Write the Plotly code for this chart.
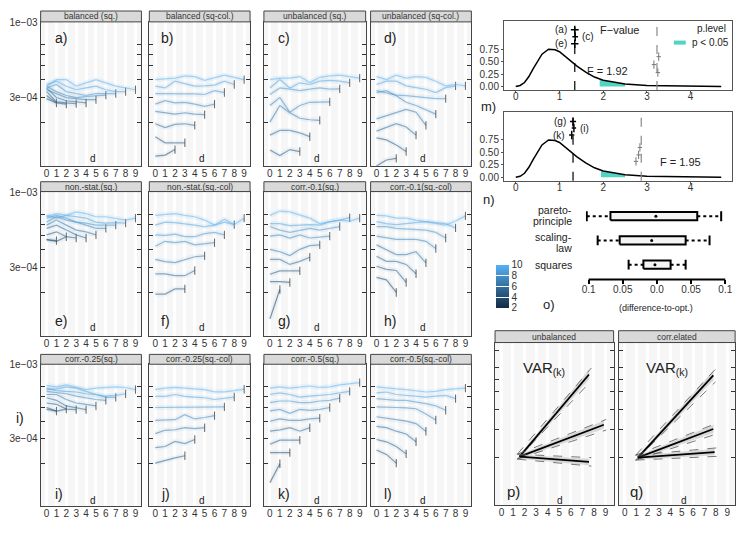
import plotly.graph_objects as go

# ---------------- data ----------------
# small multiples: one list per panel, one line per k (2..10), values in 1e-4, index = d
d_ticks = list(range(10))
k_values = list(range(2, 11))

bal_sq = [
    [2.95, 2.75],
    [3.1, 2.75, 2.7],
    [3.3, 2.8, 2.75, 2.72],
    [3.5, 3.0, 2.85, 2.8, 2.75],
    [3.4, 3.2, 3.0, 2.95, 2.9, 2.9],
    [3.6, 3.3, 3.1, 3.0, 3.05, 3.1, 3.12],
    [3.5, 3.7, 3.3, 3.2, 3.1, 3.2, 3.2, 3.2],
    [3.7, 3.9, 3.6, 3.4, 3.5, 3.6, 3.4, 3.3, 3.3],
    [3.6, 4.0, 4.0, 3.6, 3.8, 4.0, 3.8, 3.6, 3.5, 3.4],
]
bal_sqcol = [
    None,
    [1.17, 1.19, 1.3],
    [1.6, 1.45, 1.45, 1.45],
    [1.97, 1.85, 1.95, 1.97, 1.92],
    [2.4, 2.35, 2.3, 2.35, 2.3, 2.28],
    [2.7, 2.85, 2.75, 2.78, 2.7, 2.6, 2.7],
    [3.2, 3.2, 3.2, 3.2, 3.18, 3.15, 3.35, 3.25],
    [3.6, 3.5, 3.9, 3.75, 3.6, 3.62, 3.66, 3.9, 3.7],
    [4.0, 4.05, 4.1, 4.25, 4.2, 3.95, 4.1, 4.3, 4.15, 4.0],
]
unbal_sq = [
    None,
    None,
    [1.29, 1.18, 1.3, 1.26],
    [1.64, 1.77, 1.77, 1.7, 1.6],
    [2.02, 2.64, 2.35, 2.15, 2.1, 2.08],
    [2.64, 3.0, 2.37, 2.64, 2.78, 2.8, 2.8],
    [3.15, 3.5, 3.43, 3.35, 3.43, 3.5, 3.43, 3.45],
    [3.5, 4.0, 3.5, 3.8, 3.7, 3.9, 3.95, 3.9, 3.8],
    [4.0, 4.1, 4.1, 4.2, 3.82, 4.15, 4.25, 4.3, 4.2, 4.1],
]
unbal_sqcol = [
    None,
    [1.0, 1.1, 1.13],
    [1.57, 1.52, 1.4, 1.26],
    [1.75, 1.85, 1.97, 1.87, 1.64],
    [2.13, 2.25, 2.37, 2.48, 2.37, 1.92],
    [3.25, 3.35, 3.09, 2.78, 2.64, 2.45, 2.3],
    [3.35, 3.25, 3.12, 3.09, 3.06, 3.0, 2.95, 2.95],
    [3.7, 3.9, 3.9, 3.62, 3.52, 3.43, 3.25, 3.52, 3.62],
    [4.2, 4.0, 4.3, 4.1, 4.2, 4.15, 3.9, 3.62, 3.7, 3.62],
]
nonstat_sq = [
    [4.7, 4.6],
    [4.66, 4.55, 4.9],
    [5.05, 5.3, 4.9, 4.8],
    [5.6, 5.9, 5.45, 5.05, 4.8],
    [5.9, 6.4, 5.9, 5.45, 5.3, 5.05],
    [6.2, 6.75, 6.4, 6.2, 5.9, 5.6, 5.6],
    [6.6, 6.9, 6.6, 6.2, 6.1, 5.9, 5.9, 5.9],
    [6.9, 6.6, 6.9, 6.75, 6.6, 6.2, 6.1, 6.15, 6.1],
    [6.75, 7.1, 6.9, 7.3, 7.1, 6.75, 6.75, 6.6, 6.4, 6.6],
]
nonstat_sqcol = [
    None,
    None,
    [1.95, 1.95, 2.12, 2.12],
    [2.7, 2.7, 2.62, 2.62, 2.85],
    [3.4, 3.28, 3.23, 3.4, 3.55, 3.6],
    [4.2, 4.55, 4.45, 4.55, 4.3, 4.35, 4.45],
    [5.05, 5.0, 5.1, 4.9, 4.9, 5.15, 5.25, 5.05],
    [5.9, 6.2, 6.15, 6.05, 5.9, 5.75, 5.9, 6.2, 5.95],
    [6.9, 7.0, 7.1, 6.9, 6.75, 6.4, 5.9, 6.5, 5.95, 6.6],
]
corr01_sq = [
    [1.31, 2.1],
    [2.38, 2.38, 2.35],
    [2.68, 2.83, 2.83, 2.83],
    [3.4, 3.4, 3.14, 3.3, 3.52],
    [4.0, 3.85, 3.62, 4.0, 4.25, 4.3],
    [4.95, 5.05, 4.8, 5.05, 4.8, 4.85, 4.95],
    [5.77, 5.45, 5.25, 5.45, 5.6, 5.45, 5.6, 5.77],
    [6.05, 6.05, 5.85, 5.9, 5.95, 5.9, 6.24, 6.4, 6.65],
    [6.9, 7.4, 7.3, 6.9, 6.6, 6.05, 6.24, 6.4, 6.3, 6.6],
]
corr01_sqcol = [
    None,
    [2.55, 2.45, 2.0],
    [3.05, 2.9, 2.85, 2.35],
    [3.58, 3.3, 3.3, 3.14, 2.7],
    [4.3, 4.0, 3.68, 3.68, 3.85, 3.22],
    [4.95, 4.85, 4.7, 4.7, 4.7, 4.55, 4.05],
    [5.77, 5.77, 5.6, 5.55, 5.55, 5.45, 5.25, 4.8],
    [6.24, 6.05, 5.95, 6.05, 6.15, 6.24, 6.15, 6.05, 5.65],
    [6.9, 6.85, 6.6, 6.6, 6.4, 6.24, 6.05, 5.9, 6.3, 6.85],
]
corr025_sq = [
    [4.85, 4.72],
    [5.0, 4.72, 4.87],
    [5.38, 5.27, 4.87, 4.83],
    [5.86, 5.62, 5.13, 5.0, 4.83],
    [6.18, 6.18, 5.7, 5.38, 5.27, 5.13],
    [6.5, 6.34, 6.26, 6.02, 5.86, 5.7, 5.62],
    [6.86, 6.58, 6.5, 6.44, 6.26, 6.18, 5.9, 5.9],
    [6.7, 6.78, 7.0, 6.86, 6.5, 6.18, 6.02, 6.1, 6.26],
    [7.17, 7.0, 7.24, 6.93, 6.7, 6.86, 6.93, 7.0, 6.93, 6.7],
]
corr025_sqcol = [
    None,
    None,
    [2.02, 2.12, 2.2, 2.28],
    [2.6, 2.65, 2.88, 2.78, 2.97],
    [3.27, 3.45, 3.48, 3.6, 3.55, 3.6],
    [4.05, 4.1, 4.1, 4.45, 4.15, 4.25, 4.38],
    [5.0, 5.0, 5.05, 5.0, 5.05, 5.05, 5.05, 5.05],
    [6.0, 6.0, 6.18, 6.0, 5.93, 5.86, 5.7, 5.78, 5.93],
    [6.7, 6.86, 6.93, 6.86, 6.78, 6.7, 6.45, 6.45, 6.58, 6.74],
]
corr05_sq = [
    [1.47, 2.0],
    [2.4, 2.4, 2.4],
    [2.75, 2.94, 2.94, 2.94],
    [3.4, 3.47, 3.6, 3.4, 3.6],
    [4.0, 4.15, 4.05, 4.05, 4.15, 4.2],
    [4.74, 4.85, 4.55, 4.85, 4.78, 4.85, 5.0],
    [5.42, 5.56, 5.56, 5.42, 5.42, 5.56, 5.62, 5.82],
    [6.18, 6.34, 6.18, 5.93, 6.02, 6.1, 6.18, 6.34, 6.5],
    [6.86, 7.0, 6.86, 7.0, 7.1, 6.93, 7.0, 7.24, 7.4, 7.5],
]
corr05_sqcol = [
    None,
    [2.5, 2.33, 2.02],
    [2.97, 2.86, 2.65, 2.35],
    [3.68, 3.6, 3.4, 3.25, 2.86],
    [4.3, 4.2, 4.08, 4.0, 3.85, 3.4],
    [5.05, 5.0, 5.0, 4.97, 4.9, 4.5, 4.08],
    [5.78, 5.7, 5.62, 5.62, 5.5, 5.32, 5.13, 4.78],
    [6.34, 6.44, 6.18, 6.1, 6.02, 5.93, 6.02, 6.1, 5.78],
    [7.0, 6.86, 6.78, 6.7, 6.58, 6.44, 6.5, 6.7, 6.78, 6.86],
]

strip_names = [
    'balanced (sq.)', 'balanced (sq-col.)', 'unbalanced (sq.)', 'unbalanced (sq-col.)',
    'non.-stat.(sq.)', 'non.-stat.(sq.-col)', 'corr.-0.1(sq.)', 'corr.-0.1(sq.-col)',
    'corr.-0.25(sq.)', 'corr.-0.25(sq.-col)', 'corr.-0.5(sq.)', 'corr.-0.5(sq.-col)',
]
panel_tags = ['a)', 'b)', 'c)', 'd)', 'e)', 'f)', 'g)', 'h)', 'i)', 'j)', 'k)', 'l)']
panel_data = [bal_sq, bal_sqcol, unbal_sq, unbal_sqcol, nonstat_sq, nonstat_sqcol,
              corr01_sq, corr01_sqcol, corr025_sq, corr025_sqcol, corr05_sq, corr05_sqcol]

# F distribution panels
f_x = [0, 0.1, 0.2, 0.3, 0.4, 0.5, 0.6, 0.75, 0.9, 1.0, 1.2, 1.4, 1.6, 1.8, 2.0,
       2.25, 2.5, 3.0, 3.5, 4.0, 4.7]
f_y = [0, 0.02, 0.08, 0.2, 0.36, 0.52, 0.65, 0.75, 0.74, 0.70, 0.56, 0.41, 0.29,
       0.19, 0.125, 0.08, 0.05, 0.02, 0.01, 0.005, 0.0]
tail_top_x = [1.92, 2.0, 2.25, 2.5]
tail_top_y = [0.14, 0.125, 0.08, 0.05]
tail_m_x = [1.95, 2.0, 2.25, 2.5]
tail_m_y = [0.135, 0.125, 0.08, 0.05]
vline_top = [1.35, 3.23]
vline_m = [1.31, 2.87]
pts_top_x = [1.35, 1.36, 1.35]
pts_top_y = [1.14, 1.0, 0.86]
pts_top_err = [0.09, 0.065, 0.085]
pts_top_lab = ['(a)', '(c)', '(e)']
grey_top_x = [3.27, 3.16, 3.25]
grey_top_y = [0.60, 0.44, 0.28]
pts_m_x = [1.31, 1.33, 1.28]
pts_m_y = [1.12, 0.99, 0.85]
pts_m_err = [0.07, 0.05, 0.06]
pts_m_lab = ['(g)', '(i)', '(k)']
grey_m_x = [2.84, 2.81, 2.75]
grey_m_y = [0.60, 0.45, 0.32]

# boxplots (difference-to-opt.)
box_names = [['pareto-', 'principle'], ['scaling-', 'law'], ['squares']]
box_pos = [3, 2, 1]
box_lo = [-0.1027, -0.0867, -0.0414]
box_q1 = [-0.068, -0.0545, -0.0198]
box_mid = [-0.0015, -0.0077, -0.0029]
box_q3 = [0.059, 0.042, 0.020]
box_hi = [0.094, 0.077, 0.042]

# VAR(k) fits
p_x0, p_y0 = 1.57, 2.99
p_x1 = [7.57, 8.86, 7.57]
p_y1 = [8.04, 4.95, 2.67]
q_x0, q_y0 = 1.15, 2.93
q_x1 = [7.78, 7.78, 7.9]
q_y1 = [7.98, 4.69, 3.27]
fit_spread = [0.3, 0.25, 0.2]

# ---------------- helpers ----------------
# the page puts the plot 8px in from the top-left corner, so lay out in window pixels
OX, OY = 8, 8
W, H = 750 - OX, 533 - OY
FONT = 'Liberation Sans, Arial, sans-serif'


def px(x):
    return (x - OX) / W


def py(y):
    return 1 - (y - OY) / H


def k_color(k, a):
    t = (k - 2) / 8
    lo, hi = (19, 43, 67), (86, 177, 247)
    c = [round(lo[i] + (hi[i] - lo[i]) * t) for i in range(3)]
    return f'rgba({c[0]},{c[1]},{c[2]},{a})'


def ax(n):
    return ('x', 'y') if n == 1 else (f'x{n}', f'y{n}')


def axkey(n):
    return ('xaxis', 'yaxis') if n == 1 else (f'xaxis{n}', f'yaxis{n}')


fig = go.Figure()
layout = {}
shapes = []
annotations = []


def strip(x0, x1, y0, y1, text):
    shapes.append(dict(type='rect', xref='paper', yref='paper', x0=px(x0), x1=px(x1),
                       y0=py(y1), y1=py(y0), fillcolor='#d9d9d9',
                       line=dict(color='#444', width=1)))
    annotations.append(dict(x=px((x0 + x1) / 2), y=py((y0 + y1) / 2), xref='paper', yref='paper',
                            text=text, showarrow=False, xanchor='center', yanchor='middle',
                            font=dict(size=8.5, color='#333')))


def text(x, y, s, size=10, xanchor='center', xref='paper', yref='paper', color='#222'):
    annotations.append(dict(x=x, y=y, xref=xref, yref=yref, text=s, showarrow=False,
                            xanchor=xanchor, yanchor='middle', font=dict(size=size, color=color)))


# ---------------- small multiples ----------------
cols = [(37, 139), (147, 249), (263, 366), (371, 473)]
rows = [(17, 163), (189, 335), (364, 508)]
strips = [(6, 17), (179, 189), (354, 364)]
tag_x = [49, 157, 275, 383]
tag_y = [33, 320, 495]
d_lab_y = [155, 327, 502]

for i, lines in enumerate(panel_data):
    n = i + 1
    r, c = divmod(i, 4)
    xa, ya = ax(n)
    xk, yk = axkey(n)
    (x0, x1), (y0, y1) = cols[c], rows[r]
    layout[xk] = dict(domain=[px(x0), px(x1)], anchor=ya, range=[-0.6, 9.6],
                      tickvals=d_ticks, showgrid=True, gridcolor='white', gridwidth=3,
                      zeroline=False, showline=True, linecolor='#444', mirror=True,
                      ticks='', ticklabelstandoff=-2, tickfont=dict(size=10, color='#333'))
    layout[yk] = dict(domain=[py(y1), py(y0)], anchor=xa, type='log', range=[-4.0, -2.995],
                      tickvals=[3e-4, 1e-3], ticktext=['3e\u221204', '1e\u221203'],
                      showticklabels=(c == 0), ticks='inside', ticklen=4, tickcolor='#333',
                      minor=dict(tickvals=[2e-4, 4e-4, 5e-4, 6e-4, 7e-4], ticks='inside',
                                 ticklen=4, tickcolor='#333', showgrid=False),
                      showgrid=False, zeroline=False, showline=True, linecolor='#444',
                      mirror='allticks', tickfont=dict(size=10, color='#333'))
    shapes.append(dict(type='rect', xref=f'{xa} domain', yref=f'{ya} domain', x0=0, x1=1,
                       y0=0, y1=1, fillcolor='#f6f6f6', line=dict(width=0), layer='below'))
    strip(x0, x1, strips[r][0], strips[r][1], strip_names[i])
    text(px(tag_x[c]), py(tag_y[r]), panel_tags[i], size=14, xanchor='left')
    text(4.7, py(d_lab_y[r]), 'd', size=10, xref=xa)

    for k, vals in zip(k_values, lines):
        if vals is None:
            continue
        xs = d_ticks[:len(vals)]
        ys = [v * 1e-4 for v in vals]
        fig.add_trace(go.Scatter(x=xs, y=ys, xaxis=xa, yaxis=ya, mode='lines',
                                 line=dict(color='rgba(140,195,235,0.14)', width=5),
                                 hoverinfo='skip', showlegend=False))
        fig.add_trace(go.Scatter(x=xs, y=ys, xaxis=xa, yaxis=ya, mode='lines+markers',
                                 line=dict(color=k_color(k, 0.5), width=1.2),
                                 marker=dict(symbol='line-ns', size=[0] * (len(xs) - 1) + [6],
                                             color='#333', line=dict(width=1.1, color='#333')),
                                 showlegend=False, name=f'k={k}'))

text(px(10), py(418), 'i)', size=14, xanchor='left')

# colour bar
fig.add_trace(go.Scatter(x=[None], y=[None], xaxis='x', yaxis='y', mode='markers',
                         showlegend=False,
                         marker=dict(color=[2, 10], cmin=2, cmax=10,
                                     colorscale=[[0, '#132B43'], [1, '#56B1F7']],
                                     showscale=True,
                                     colorbar=dict(x=px(488), xanchor='left', y=py(285),
                                                   yanchor='middle', len=64 / H, thickness=13,
                                                   outlinewidth=0, tickvals=[2, 4, 6, 8, 10],
                                                   ticks='inside', ticklen=13, tickcolor='white',
                                                   tickfont=dict(size=10, color='#333')))))

# ---------------- F-value panels ----------------
f_panels = [
    (13, (16, 86), tail_top_x, tail_top_y, vline_top, pts_top_x, pts_top_y, pts_top_err,
     pts_top_lab, grey_top_x, grey_top_y),
    (14, (108, 178), tail_m_x, tail_m_y, vline_m, pts_m_x, pts_m_y, pts_m_err,
     pts_m_lab, grey_m_x, grey_m_y),
]
for n, (y0, y1), tx, ty, vl, ex, ey, ee, el, gx, gy in f_panels:
    xa, ya = ax(n)
    xk, yk = axkey(n)
    layout[xk] = dict(domain=[px(506), px(737)], anchor=ya, range=[-0.27, 4.95],
                      tickvals=[0, 1, 2, 3, 4], showgrid=False, zeroline=False, showline=True,
                      linecolor='#555', mirror=True, ticks='outside', ticklen=2,
                      ticklabelstandoff=-5, tickcolor='#555',
                      tickfont=dict(size=10, color='#333'))
    layout[yk] = dict(domain=[py(y1), py(y0)], anchor=xa, range=[-0.07, 1.32],
                      tickvals=[0, 0.25, 0.5, 0.75], tickformat='.2f', showgrid=False,
                      zeroline=False, showline=True, linecolor='#555', mirror=True,
                      ticks='outside', ticklen=2, tickcolor='#555',
                      tickfont=dict(size=10, color='#333'))
    fig.add_trace(go.Scatter(x=tx, y=ty, xaxis=xa, yaxis=ya, mode='lines', fill='tozeroy',
                             fillcolor='rgba(60,208,186,0.9)', line=dict(width=0),
                             showlegend=False))
    fig.add_trace(go.Scatter(x=f_x, y=f_y, xaxis=xa, yaxis=ya, mode='lines',
                             line=dict(color='black', width=1.5), showlegend=False))
    shapes.append(dict(type='line', xref=xa, yref=f'{ya} domain', x0=vl[0], x1=vl[0], y0=0,
                       y1=1, line=dict(color='black', width=1.2, dash='dash')))
    shapes.append(dict(type='line', xref=xa, yref=f'{ya} domain', x0=vl[1], x1=vl[1], y0=0,
                       y1=1, line=dict(color='#888', width=1.2, dash='dash')))
    fig.add_trace(go.Scatter(x=ex, y=ey, xaxis=xa, yaxis=ya, mode='markers',
                             marker=dict(symbol='line-ns', size=6, color='black',
                                         line=dict(width=1.5, color='black')),
                             error_x=dict(type='data', array=ee, width=0, thickness=1.5,
                                          color='black'),
                             showlegend=False))
    fig.add_trace(go.Scatter(x=gx, y=gy, xaxis=xa, yaxis=ya, mode='markers',
                             marker=dict(symbol='line-ns', size=6, color='#777',
                                         line=dict(width=1, color='#777')),
                             error_x=dict(type='data', array=[0.05] * 3, width=0, thickness=1,
                                          color='#777'),
                             showlegend=False))
    for j in range(3):
        if j == 1:
            text(ex[j] + ee[j] + 0.05, ey[j], el[j], xanchor='left', xref=xa, yref=ya)
        else:
            text(ex[j] - ee[j] - 0.05, ey[j], el[j], xanchor='right', xref=xa, yref=ya)

text(2.38, 1.14, 'F\u2212value', size=11, xref='x13', yref='y13')
text(2.1, 0.31, 'F = 1.92', size=11, xref='x13', yref='y13')
text(3.77, 0.30, 'F = 1.95', size=11, xref='x14', yref='y14')
text(px(733), py(24), 'p.level', size=10, xanchor='right')
shapes.append(dict(type='line', xref='paper', yref='paper', x0=px(678), x1=px(690),
                   y0=py(38), y1=py(38), line=dict(color='rgba(60,208,186,0.9)', width=4)))
text(px(694), py(38), 'p < 0.05', size=10, xanchor='left')
text(px(490), py(103), 'm)', size=13)
text(px(491), py(197), 'n)', size=13)
text(px(552), py(303), 'o)', size=13)

# ---------------- boxplots ----------------
xa, ya = ax(15)
xk, yk = axkey(15)
layout[xk] = dict(domain=[px(588.9), px(732.8)], anchor=ya, range=[-0.104, 0.104],
                  tickvals=[-0.1, -0.05, 0, 0.05, 0.1],
                  ticktext=['0.1', '0.05', '0.0', '0.05', '0.1'], showgrid=False,
                  zeroline=False, showline=False, ticks='outside', ticklen=4, tickwidth=1.5,
                  ticklabelstandoff=-3, tickcolor='black', tickfont=dict(size=10, color='#333'))
layout[yk] = dict(domain=[py(278), py(200)], anchor=xa, range=[0.39, 3.57], visible=False)
shapes.append(dict(type='line', xref=xa, yref=f'{ya} domain', x0=-0.1, x1=0.1, y0=0, y1=0,
                   line=dict(color='black', width=2)))
half = 0.17
box_label_y = [(208, 219), (235, 246), (263,)]
for j in range(3):
    yc = box_pos[j]
    fig.add_trace(go.Scatter(x=[box_lo[j], box_q1[j]], y=[yc, yc], xaxis=xa, yaxis=ya,
                             mode='lines', line=dict(color='black', width=2, dash='dot'),
                             showlegend=False))
    fig.add_trace(go.Scatter(x=[box_q3[j], box_hi[j]], y=[yc, yc], xaxis=xa, yaxis=ya,
                             mode='lines', line=dict(color='black', width=2, dash='dot'),
                             showlegend=False))
    fig.add_trace(go.Scatter(x=[box_lo[j], box_hi[j]], y=[yc, yc], xaxis=xa, yaxis=ya,
                             mode='markers', marker=dict(symbol='line-ns', size=7,
                                                         line=dict(width=2, color='black')),
                             showlegend=False))
    fig.add_trace(go.Scatter(x=[box_q1[j], box_q3[j], box_q3[j], box_q1[j], box_q1[j]],
                             y=[yc - half, yc - half, yc + half, yc + half, yc - half],
                             xaxis=xa, yaxis=ya, mode='lines', fill='toself',
                             fillcolor='#f4f4f4', line=dict(color='black', width=2),
                             showlegend=False))
    fig.add_trace(go.Scatter(x=[box_mid[j]], y=[yc], xaxis=xa, yaxis=ya, mode='markers',
                             marker=dict(color='black', size=3), showlegend=False))
    for part, yl in zip(box_names[j], box_label_y[j]):
        text(px(577), py(yl), part, size=10.5, xanchor='right')
text(px(660), py(307), '(difference-to-opt.)', size=9)

# ---------------- VAR(k) panels ----------------
var_panels = [
    (16, (497, 617), 'unbalanced', 'p)', p_x0, p_y0, p_x1, p_y1),
    (17, (622, 740), 'corr.elated', 'q)', q_x0, q_y0, q_x1, q_y1),
]
for n, (x0, x1), sname, tag, ox, oy, ex, ey in var_panels:
    xa, ya = ax(n)
    xk, yk = axkey(n)
    layout[xk] = dict(domain=[px(x0), px(x1)], anchor=ya, range=[-0.55, 9.7], tickvals=d_ticks,
                      showgrid=True, gridcolor='white', gridwidth=3, zeroline=False,
                      showline=True, linecolor='#444', mirror=True, ticks='',
                      ticklabelstandoff=-2, tickfont=dict(size=10, color='#333'))
    layout[yk] = dict(domain=[py(507), py(342)], anchor=xa, range=[0, 10],
                      tickvals=[2.93, 4.65, 5.9, 6.97, 7.72, 8.48, 9.49], showticklabels=False,
                      ticks='inside', ticklen=4, tickcolor='#333', showgrid=False,
                      zeroline=False, showline=True, linecolor='#444', mirror='allticks')
    shapes.append(dict(type='rect', xref=f'{xa} domain', yref=f'{ya} domain', x0=0, x1=1,
                       y0=0, y1=1, fillcolor='#f6f6f6', line=dict(width=0), layer='below'))
    strip(x0, x1, 330, 342, sname)
    for j in range(3):
        s = fit_spread[j]
        fig.add_trace(go.Scatter(x=[ox, ex[j], ex[j], ox, ox],
                                 y=[oy - 0.12, ey[j] - s, ey[j] + s, oy + 0.12, oy - 0.12],
                                 xaxis=xa, yaxis=ya, mode='lines', fill='toself',
                                 fillcolor='rgba(140,140,140,0.3)', line=dict(width=0),
                                 showlegend=False))
        for sgn in (-1, 1):
            fig.add_trace(go.Scatter(x=[ox - 0.2, ex[j] + 0.2],
                                     y=[oy + sgn * 0.15, ey[j] + sgn * s * 1.3],
                                     xaxis=xa, yaxis=ya, mode='lines',
                                     line=dict(color='#555', width=0.8, dash='dash'),
                                     showlegend=False))
        fig.add_trace(go.Scatter(x=[ox, ex[j]], y=[oy, ey[j]], xaxis=xa, yaxis=ya,
                                 mode='lines', line=dict(color='black', width=1.8),
                                 showlegend=False))
    text(px(x0 + 26), py(368), 'VAR<sub>(k)</sub>', size=15, xanchor='left')
    text(px(x0 + 10), py(493), tag, size=15, xanchor='left')
    text(px(x0 + 66), py(502), 'd', size=10)

fig.update_layout(
    width=W, height=H,
    margin=dict(l=0, r=0, t=0, b=0),
    paper_bgcolor='white',
    plot_bgcolor='white',
    font=dict(family=FONT, color='#222'),
    showlegend=False,
    shapes=shapes,
    annotations=annotations,
    **layout,
)

fig.write_html('out.html')
